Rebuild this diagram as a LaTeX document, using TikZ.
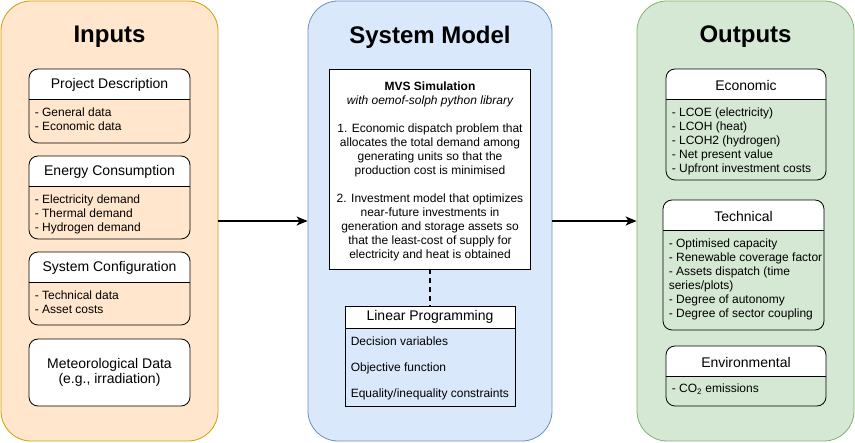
\documentclass[tikz,border=0pt]{standalone}
\usepackage{fontspec}
\setmainfont{Liberation Sans}
\usetikzlibrary{arrows.meta,positioning,calc}
\definecolor{inpfill}{HTML}{FFE6CC}
\definecolor{inpline}{HTML}{D79B00}
\definecolor{modfill}{HTML}{DAE8FC}
\definecolor{modline}{HTML}{6C8EBF}
\definecolor{outfill}{HTML}{D5E8D4}
\definecolor{outstroke}{HTML}{82B366}

\begin{document}
\begin{tikzpicture}[x=1pt,y=-1pt,
  every node/.style={font=\fontsize{12}{14}\selectfont},
  panel/.style={rounded corners=30pt,line width=0.8pt,minimum width=217pt,minimum height=440pt},
  ptitle/.style={font=\fontsize{24}{28}\selectfont\bfseries},
  lane/.style={draw=black,line width=0.8pt,rounded corners=9pt,minimum width=161pt,
    path picture={\fill[white,sharp corners] (path picture bounding box.north west) rectangle ([yshift=-#1pt]path picture bounding box.north east);
      \draw[black,line width=0.8pt,sharp corners] ([yshift=-#1pt]path picture bounding box.north west) -- ([yshift=-#1pt]path picture bounding box.north east);}},
  lhead/.style={font=\fontsize{14}{16}\selectfont},
  lbody/.style={anchor=north west,align=left,inner sep=1pt},
  mvsbox/.style={draw=black,fill=white,line width=0.8pt,minimum width=201pt,minimum height=200pt},
  flow/.style={-{Stealth[length=11pt,width=9pt,inset=3pt]},line width=1.6pt}]
\useasboundingbox (0,0) rectangle (855,443);

% panels
\node[panel,fill=inpfill,draw=inpline] (inp) at (109.5,221) {};
\node[panel,fill=modfill,draw=modline,minimum width=244pt] (sm) at (430,221) {};
\node[panel,fill=outfill,draw=outstroke] (out) at (745.5,221) {};
\node[ptitle] (inpt) at (109.5,37) {Inputs};
\node[ptitle] (smt) at (430,37) {System Model};
\node[ptitle] (outt) at (745.5,37) {Outputs};

% inputs
\node[lane=30,minimum height=74pt] (pd) at (109.5,106) {};
\node[lhead] (pdh) at ([yshift=-16.5pt]pd.north) {Project Description};
\node[lbody] (pdb) at ([shift={(5pt,-38.5pt)}]pd.north west) {- General data\\- Economic data};
\node[lane=30,minimum height=83pt] (ec) at (109.5,197.5) {};
\node[lhead] (ech) at ([yshift=-16.5pt]ec.north) {Energy Consumption};
\node[lbody] (ecb) at ([shift={(5pt,-38.5pt)}]ec.north west) {- Electricity demand\\- Thermal demand\\- Hydrogen demand};
\node[lane=30,minimum height=73pt] (sc) at (109.5,288.5) {};
\node[lhead] (sch) at ([yshift=-16.5pt]sc.north) {System Configuration};
\node[lbody] (scb) at ([shift={(5pt,-38.5pt)}]sc.north west) {- Technical data\\- Asset costs};
\node[draw=black,fill=white,line width=0.8pt,rounded corners=9pt,minimum width=161pt,minimum height=67pt,
  align=center,font=\fontsize{14}{15}\selectfont] (met) at (109.5,372.5) {Meteorological Data\\(e.g., irradiation)};

% system model
\node[mvsbox] (mvs) at (430,169) {};
\node[align=center] (mvst) at ([yshift=-2.5pt]mvs.center) {{\bfseries MVS Simulation}\\\itshape with oemof-solph python library\\[14pt]%
  1. Economic dispatch problem that\\allocates the total demand among\\generating units so that the\\production cost is minimised\\[14pt]%
  2. Investment model that optimizes\\near-future investments in\\generation and storage assets so\\that the least-cost of supply for\\electricity and heat is obtained};
\node[lane=22,sharp corners,minimum width=170pt,minimum height=100pt] (lp) at (430,356) {};
\node[lhead] (lph) at ([yshift=-11.5pt]lp.north) {Linear Programming};
\node[lbody,font=\fontsize{12}{26}\selectfont] (lpb) at ([shift={(5pt,-30.5pt)}]lp.north west)
  {Decision variables\\Objective function\\Equality/inequality constraints};
\draw[dash pattern=on 5pt off 4pt,line width=1.6pt] (mvs) -- (lp);

% outputs
\node[lane=30,minimum width=160pt,minimum height=111pt] (ecn) at (746,124.5) {};
\node[lhead] (ecnh) at ([yshift=-16.5pt]ecn.north) {Economic};
\node[lbody] (ecnb) at ([shift={(5pt,-38.5pt)}]ecn.north west)
  {- LCOE (electricity)\\- LCOH (heat)\\- LCOH2 (hydrogen)\\- Net present value\\- Upfront investment costs};
\node[lane=30,minimum height=130pt] (tec) at (743.5,265) {};
\node[lhead] (tech) at ([yshift=-16.5pt]tec.north) {Technical};
\node[lbody] (tecb) at ([shift={(5pt,-38.5pt)}]tec.north west)
  {- Optimised capacity\\- Renewable coverage factor\\- Assets dispatch (time\\series/plots)\\- Degree of autonomy\\- Degree of sector coupling};
\node[lane=30,minimum width=160pt,minimum height=60pt] (env) at (746,376) {};
\node[lhead] (envh) at ([yshift=-16.5pt]env.north) {Environmental};
\node[lbody] (envb) at ([shift={(5pt,-37.5pt)}]env.north west) {- CO\textsubscript{2} emissions};

\draw[flow] (inp) -- (sm);
\draw[flow] (sm) -- (out);
\end{tikzpicture}
\end{document}
